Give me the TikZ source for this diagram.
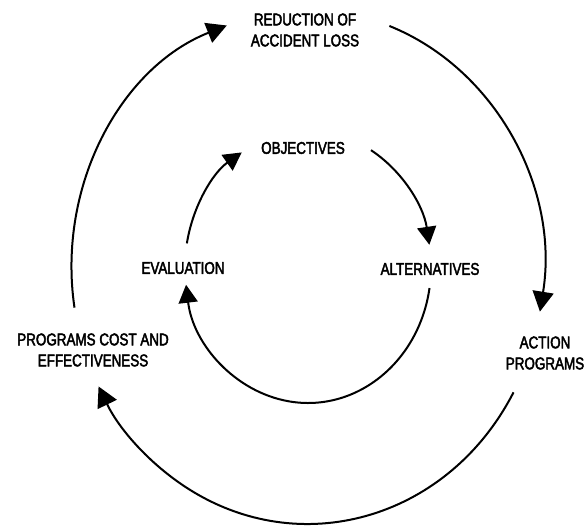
\documentclass[tikz,border=0pt]{standalone}
\usepackage{fontspec}
\setmainfont{Liberation Sans}[FakeStretch=0.79,FakeBold=2.5]
\usetikzlibrary{arrows.meta}
\begin{document}
\begin{tikzpicture}[x=1pt,y=1pt,
  label/.style={align=center,inner sep=0pt,font=\fontsize{17}{21}\selectfont},
  bigflow/.style={line width=2pt,-{Triangle[length=20pt,width=21pt]}},
  smallflow/.style={line width=2pt,-{Triangle[length=18pt,width=19pt]}}]
\useasboundingbox (0,0) rectangle (587,526);

% centres of the two loops
\coordinate (O) at (307.5,259);
\coordinate (I) at (308,259);

% outer loop labels
\node[label] (red) at (305,496) {REDUCTION OF\\ACCIDENT LOSS};
\node[label] (act) at (545,173) {ACTION\\PROGRAMS};
\node[label] (cost) at (93,176) {PROGRAMS COST AND\\EFFECTIVENESS};

% inner loop labels
\node[label] (obj) at (303,378) {OBJECTIVES};
\node[label] (alt) at (430,257) {ALTERNATIVES};
\node[label] (eva) at (183,258) {EVALUATION};

% outer loop: cost -> reduction -> action -> cost
\draw[bigflow] (O) ++(189.1:236 and 257)
  arc[start angle=189.1,end angle=110,x radius=236,y radius=257];
\draw[bigflow] (O) ++(69.7:236 and 257)
  arc[start angle=69.7,end angle=-10,x radius=236,y radius=257];
\draw[bigflow] (O) ++(-29.2:236 and 257)
  arc[start angle=-29.2,end angle=-152.3,x radius=236,y radius=257];

% inner loop: evaluation -> objectives -> alternatives -> evaluation
\draw[smallflow] (I) ++(170:123 and 136)
  arc[start angle=170,end angle=122.6,x radius=123,y radius=136];
\draw[smallflow] (I) ++(59.2:123 and 136)
  arc[start angle=59.2,end angle=9.4,x radius=123,y radius=136];
\draw[smallflow] (I) ++(-8.9:123 and 136)
  arc[start angle=-8.9,end angle=-172.5,x radius=123,y radius=136];
\end{tikzpicture}
\end{document}
